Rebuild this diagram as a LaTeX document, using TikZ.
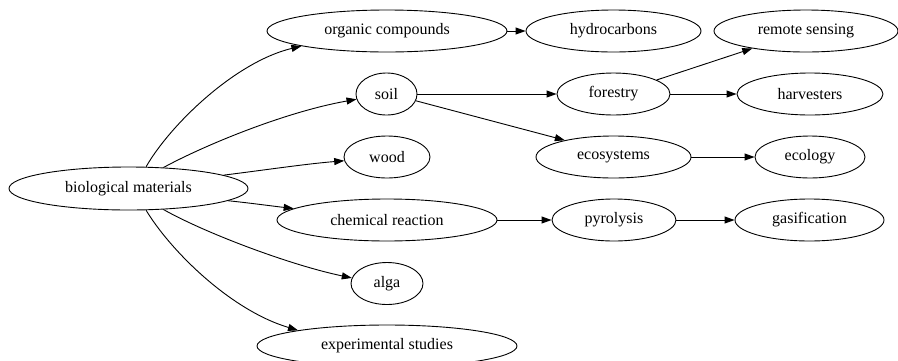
\documentclass[tikz,border=0pt]{standalone}
\usepackage{fontspec}
\setmainfont{Liberation Serif}
\usetikzlibrary{shapes.geometric,arrows.meta}
\begin{document}
\begin{tikzpicture}[x=1pt,y=-1pt,
  nd/.style={draw,ellipse,line width=0.9pt,inner sep=0pt,font=\fontsize{16}{19}\selectfont},
  ar/.style={draw,line width=0.9pt,-{Triangle[length=10pt,width=7pt]}}]
\fill[white] (0,0) rectangle (898,360);
\useasboundingbox (0,0) rectangle (898,360);
\node[nd,minimum width=239pt,minimum height=43pt] (bio) at (128.5,188.5) {biological materials};
\node[nd,minimum width=240pt,minimum height=42pt] (org) at (387,31) {organic compounds};
\node[nd,minimum width=175pt,minimum height=42pt] (hyd) at (613.5,31) {hydrocarbons};
\node[nd,minimum width=184pt,minimum height=42pt] (rem) at (806,31) {remote sensing};
\node[nd,minimum width=61pt,minimum height=42pt] (soil) at (386.5,94) {soil};
\node[nd,minimum width=113pt,minimum height=42pt] (for) at (613.5,94) {forestry};
\node[nd,minimum width=146pt,minimum height=42pt] (har) at (810,94) {harvesters};
\node[nd,minimum width=86pt,minimum height=42pt] (wood) at (387,157) {wood};
\node[nd,minimum width=155pt,minimum height=42pt] (eco) at (613.5,157) {ecosystems};
\node[nd,minimum width=110pt,minimum height=42pt] (ecol) at (810,157) {ecology};
\node[nd,minimum width=220pt,minimum height=42pt] (chem) at (387,220) {chemical reaction};
\node[nd,minimum width=124pt,minimum height=42pt] (pyr) at (614,220) {pyrolysis};
\node[nd,minimum width=149pt,minimum height=42pt] (gas) at (809.5,220) {gasification};
\node[nd,minimum width=72pt,minimum height=42pt] (alga) at (387,283.5) {alga};
\node[nd,minimum width=260pt,minimum height=42pt] (exp) at (387,346) {experimental studies};
% curved edges from biological materials
\draw[ar] (bio.51) .. controls (170,125) and (235,62) .. (org.190);
\draw[ar] (bio.31) .. controls (205,145) and (285,112) .. (soil.190);
\draw[ar] (bio.8) .. controls (265,170) and (305,164) .. (wood.185);
\draw[ar] (bio.353) .. controls (250,203) and (272,206) .. (chem.173);
\draw[ar] (bio.329) .. controls (205,233) and (290,265) .. (alga.171);
\draw[ar] (bio.309) .. controls (170,250) and (230,310) .. (exp.170);
% straight edges
\draw[ar] (org.east) -- (hyd.west);
\draw[ar] (soil.east) -- (for.west);
\draw[ar] (soil.347) -- (eco.161);
\draw[ar] (for.18) -- (rem.198);
\draw[ar] (for.east) -- (har.west);
\draw[ar] (eco.east) -- (ecol.west);
\draw[ar] (chem.east) -- (pyr.west);
\draw[ar] (pyr.east) -- (gas.west);
\end{tikzpicture}
\end{document}
